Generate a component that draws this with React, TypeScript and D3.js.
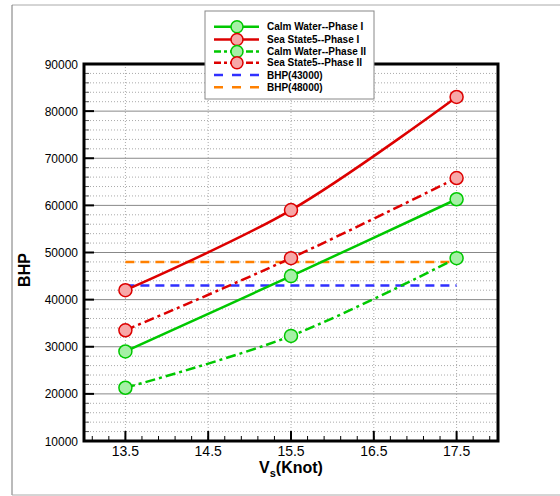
import React from "react";
import * as d3 from "d3";

const width = 560;
const height = 496;
const margin = { top: 64, right: 62, bottom: 55, left: 84 };

const speeds = [13.5, 15.5, 17.5];
const calmPhase1 = [29000, 45000, 61300];
const seaPhase1 = [42000, 59000, 83000];
const calmPhase2 = [21300, 32300, 48800];
const seaPhase2 = [33500, 48800, 65800];
const bhpLimits = [43000, 48000];

const xTicks = [13.5, 14.5, 15.5, 16.5, 17.5];
const yTicks = [10000, 20000, 30000, 40000, 50000, 60000, 70000, 80000, 90000];

const green = "#00c800";
const red = "#dd0000";

const series = [
  { name: "Calm Water--Phase I", values: calmPhase1, color: green, fill: "#a6f0a6", dash: "" },
  { name: "Sea State5--Phase I", values: seaPhase1, color: red, fill: "#f7a8a8", dash: "" },
  { name: "Calm Water--Phase II", values: calmPhase2, color: green, fill: "#a6f0a6", dash: "10,4,3,4" },
  { name: "Sea State5--Phase II", values: seaPhase2, color: red, fill: "#f7a8a8", dash: "10,4,3,4" },
];

const limits = [
  { name: "BHP(43000)", value: bhpLimits[0], color: "#3030ff" },
  { name: "BHP(48000)", value: bhpLimits[1], color: "#ff8000" },
];

const App = () => {
  const x = d3.scaleLinear().domain([13, 18]).range([margin.left, width - margin.right]);
  const y = d3.scaleLinear().domain([10000, 90000]).range([height - margin.bottom, margin.top]);

  const line = d3
    .line<[number, number]>()
    .x(d => x(d[0]))
    .y(d => y(d[1]))
    .curve(d3.curveCatmullRom.alpha(0.5));

  const minorY = d3.range(10000, 90001, 2000).filter(v => v % 10000 !== 0);
  const minorX = d3.range(13.1, 18, 0.2);
  const x0 = margin.left;
  const x1 = width - margin.right;
  const yb = height - margin.bottom;
  const yt = margin.top;

  const legendX = 205;
  const legendY = 11;
  const legendRows = [26.7, 39.5, 51.5, 62.7, 75, 87.3];

  return (
    <svg width={width} height={height} style={{ position: "absolute", left: 0, top: 0 }}
      fontFamily="'Liberation Sans', Arial, sans-serif">
      <rect x={0} y={0} width={width} height={height} fill="#fff" />
      <line x1={12} x2={width} y1={5} y2={5} stroke="#aaa" />
      <line x1={12} x2={12} y1={5} y2={495} stroke="#777" />
      <line x1={12} x2={width} y1={495} y2={495} stroke="#aaa" />

      {/* grid */}
      {minorY.map(v => (
        <line key={"my" + v} x1={x0} x2={x1} y1={y(v)} y2={y(v)} stroke="#aaa" strokeDasharray="1,2" />
      ))}
      {yTicks.map(v => (
        <line key={"gy" + v} x1={x0} x2={x1} y1={y(v)} y2={y(v)} stroke="#888" />
      ))}
      {xTicks.map(v => (
        <line key={"gx" + v} x1={x(v)} x2={x(v)} y1={yt} y2={yb} stroke="#aaa" strokeDasharray="1,2" />
      ))}

      {/* ticks */}
      {yTicks.map(v => (
        <line key={"ty" + v} x1={x0} x2={x0 + 10} y1={y(v)} y2={y(v)} stroke="#000" strokeWidth={2} />
      ))}
      {minorY.map(v => (
        <line key={"tmy" + v} x1={x0} x2={x0 + 5} y1={y(v)} y2={y(v)} stroke="#555" />
      ))}
      {xTicks.map(v => (
        <line key={"tx" + v} x1={x(v)} x2={x(v)} y1={yb} y2={yb - 10} stroke="#000" strokeWidth={2} />
      ))}
      {minorX.map(v => (
        <line key={"tmx" + v} x1={x(v)} x2={x(v)} y1={yb} y2={yb - 5} stroke="#000" />
      ))}

      {/* limit lines */}
      {limits.map(l => (
        <line key={l.name} x1={x(13.5)} x2={x(17.5)} y1={y(l.value)} y2={y(l.value)}
          stroke={l.color} strokeWidth={2.5} strokeDasharray="9,6" />
      ))}

      {/* series */}
      {series.map(s => (
        <g key={s.name}>
          <path d={line(speeds.map((v, i) => [v, s.values[i]] as [number, number])) || ""}
            fill="none" stroke={s.color} strokeWidth={2.5} strokeDasharray={s.dash || undefined} />
          {speeds.map((v, i) => (
            <circle key={i} cx={x(v)} cy={y(s.values[i])} r={6.5} fill={s.fill} stroke={s.color} strokeWidth={1.5} />
          ))}
        </g>
      ))}

      {/* frame */}
      <rect x={x0} y={yt} width={x1 - x0} height={yb - yt} fill="none" stroke="#000" strokeWidth={3} />

      {/* tick labels */}
      {yTicks.map(v => (
        <text key={"ly" + v} x={x0 - 6} y={y(v) + 4.5} textAnchor="end" fontSize={12}>{v}</text>
      ))}
      {xTicks.map(v => (
        <text key={"lx" + v} x={x(v)} y={yb + 15} textAnchor="middle" fontSize={14}>{v.toFixed(1)}</text>
      ))}

      {/* axis titles */}
      <text transform="translate(30,270) rotate(-90)" textAnchor="middle" fontSize={16} fontWeight="bold">BHP</text>
      <text x={291} y={473} textAnchor="middle" fontSize={16} fontWeight="bold">
        V<tspan fontSize={11} dy={4}>s</tspan><tspan dy={-4}>(Knot)</tspan>
      </text>

      {/* legend */}
      <rect x={legendX} y={legendY} width={169} height={88} fill="#fff" stroke="#888" />
      {series.map((s, i) => (
        <g key={"lg" + s.name}>
          <line x1={214} x2={259} y1={legendRows[i]} y2={legendRows[i]} stroke={s.color} strokeWidth={2.5}
            strokeDasharray={s.dash ? "7,3,3,3" : undefined} />
          <circle cx={237} cy={legendRows[i]} r={6} fill={s.fill} stroke={s.color} strokeWidth={1.5} />
          <text x={267} y={legendRows[i] + 3.5} fontSize={10} fontWeight="bold">{s.name}</text>
        </g>
      ))}
      {limits.map((l, j) => (
        <g key={"ll" + l.name}>
          <line x1={214} x2={259} y1={legendRows[4 + j]} y2={legendRows[4 + j]} stroke={l.color}
            strokeWidth={2.5} strokeDasharray="9,9" />
          <text x={267} y={legendRows[4 + j] + 3.5} fontSize={10} fontWeight="bold">{l.name}</text>
        </g>
      ))}
    </svg>
  );
};

export default App;
